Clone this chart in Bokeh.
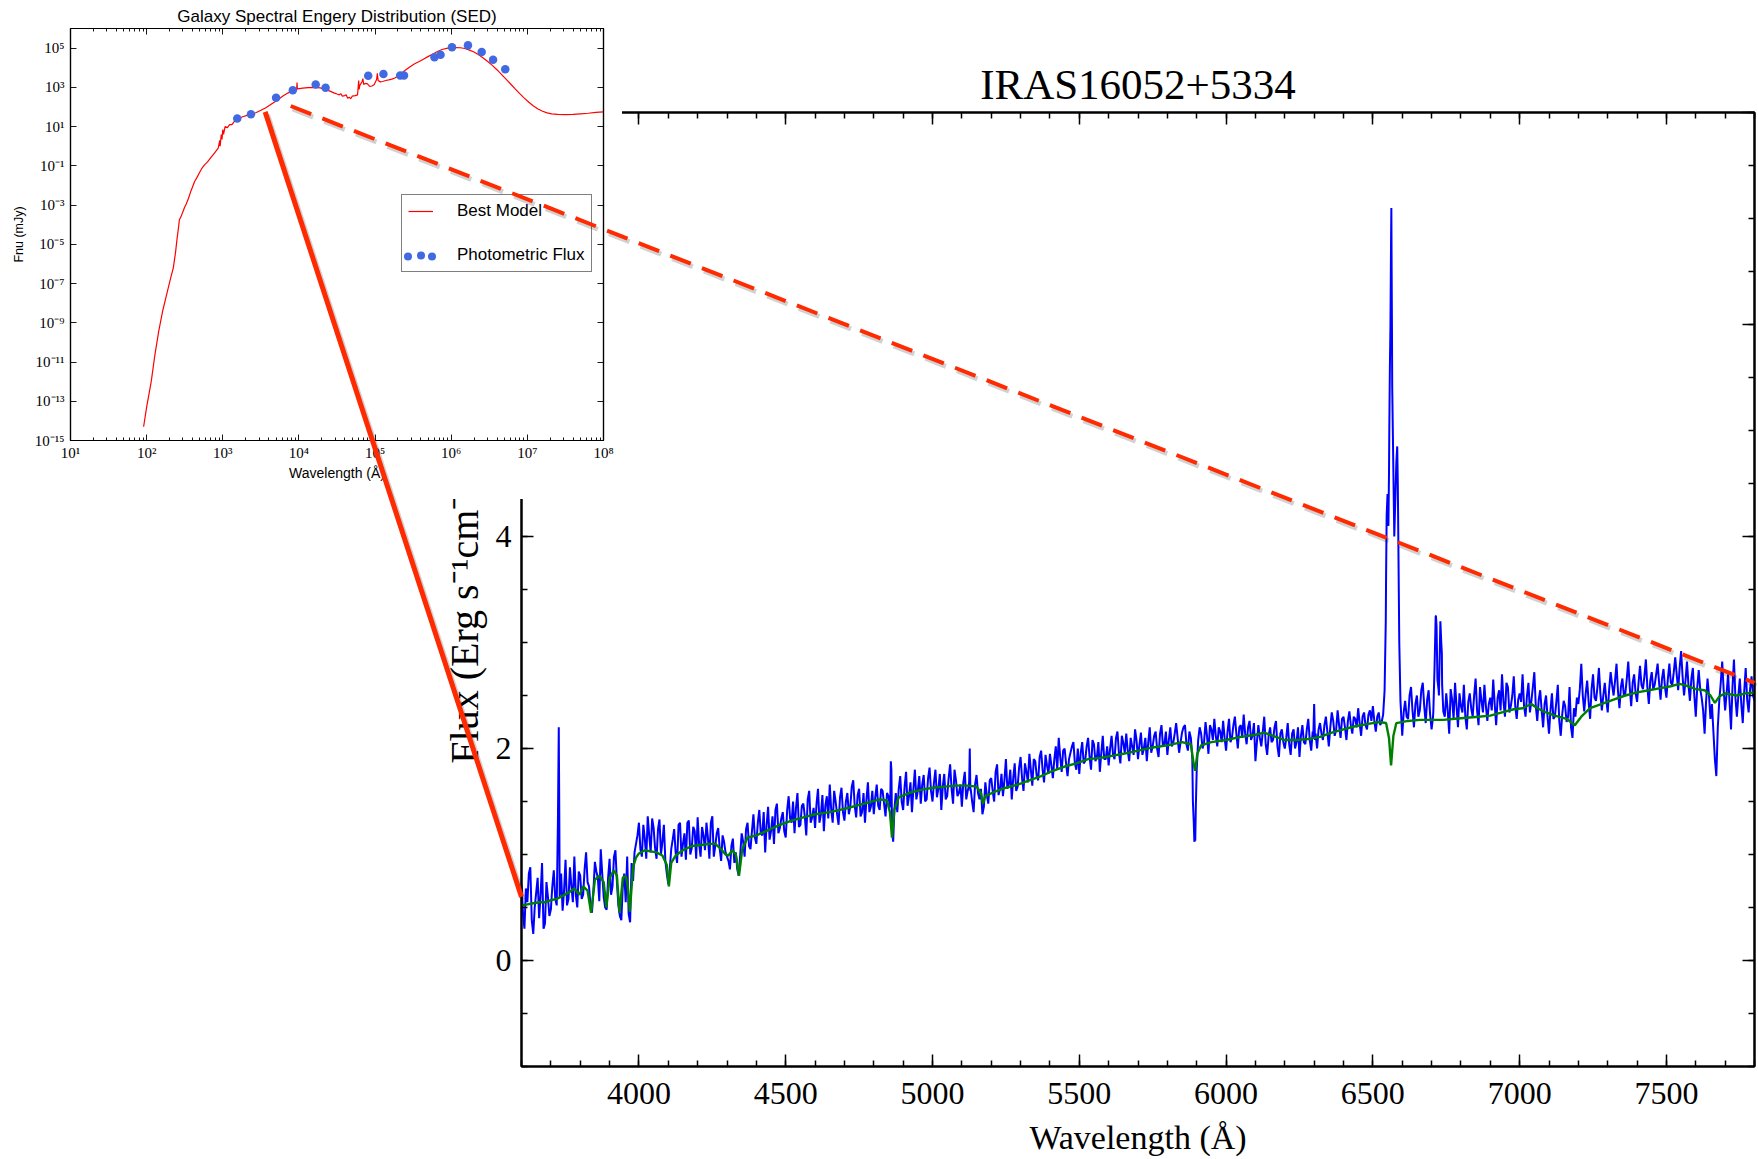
import numpy as np
from bokeh.plotting import figure
from bokeh.models import (Range1d, LinearAxis, LogAxis, SingleIntervalTicker, FixedTicker,
                          CustomJSTickFormatter, Legend, LegendItem)
from bokeh.embed import file_html
from bokeh.resources import INLINE

# ---------------------------------------------------------------------------
# Optical spectrum of IRAS16052+5334 (flux in 1e-16 erg s^-1 cm^-2 A^-1)
# ---------------------------------------------------------------------------
spec_title = "IRAS16052+5334"
wave_start, wave_stop, wave_step = 3600, 7800, 10

# samples at 3600, 3610, ... 7800 A
observed_flux = [
    0.72, 0.30, 0.55, 0.88, 0.25, 0.64, 0.40, 0.92, 0.35, 0.60,   # 3600
    0.48, 0.85, 0.52, 0.60, 0.47, 0.95, 0.58, 0.70, 0.98, 0.50,   # 3700
    0.80, 0.62, 1.02, 0.70, 0.45, 0.93, 0.78, 1.05, 0.60, 0.48,   # 3800
    0.96, 0.70, 1.04, 0.52, 0.38, 0.82, 0.98, 0.36, 0.75, 1.10,   # 3900
    1.30, 0.98, 1.15, 1.36, 1.02, 1.25, 0.96, 1.33, 1.12, 0.94,   # 4000
    0.72, 1.05, 1.24, 0.92, 1.30, 1.10, 0.95, 1.32, 1.06, 1.22,   # 4100
    1.35, 0.98, 1.18, 1.30, 0.96, 1.36, 1.08, 1.25, 0.94, 1.12,   # 4200
    0.98, 0.86, 1.15, 1.02, 0.80, 1.20, 0.98, 1.30, 1.05, 1.38,   # 4300
    1.10, 1.42, 1.18, 1.02, 1.45, 1.22, 1.10, 1.48, 1.25, 1.40,   # 4400
    1.16, 1.55, 1.30, 1.20, 1.58, 1.28, 1.48, 1.18, 1.60, 1.35,   # 4500
    1.25, 1.62, 1.38, 1.22, 1.55, 1.66, 1.30, 1.50, 1.28, 1.63,   # 4600
    1.32, 1.58, 1.45, 1.70, 1.35, 1.62, 1.40, 1.30, 1.68, 1.45,   # 4700
    1.38, 1.66, 1.42, 1.60, 1.36, 1.55, 1.80, 1.42, 1.40, 1.74,   # 4800
    1.42, 1.78, 1.55, 1.40, 1.80, 1.60, 1.48, 1.75, 1.52, 1.82,   # 4900
    1.50, 1.80, 1.62, 1.42, 1.76, 1.55, 1.85, 1.48, 1.70, 1.58,   # 5000
    1.45, 1.78, 1.60, 1.62, 1.40, 1.75, 1.52, 1.38, 1.68, 1.48,   # 5100
    1.72, 1.50, 1.85, 1.62, 1.55, 1.90, 1.66, 1.52, 1.86, 1.64,   # 5200
    1.92, 1.60, 1.78, 1.95, 1.65, 1.88, 1.70, 1.98, 1.68, 1.84,   # 5300
    1.95, 1.72, 2.02, 2.10, 1.78, 2.00, 1.74, 1.96, 2.06, 1.80,   # 5400
    1.76, 2.06, 1.88, 2.10, 1.80, 2.04, 1.92, 1.78, 2.12, 1.90,   # 5500
    1.84, 2.12, 1.90, 2.16, 1.86, 2.05, 2.14, 1.88, 2.02, 2.18,   # 5600
    1.90, 2.15, 2.00, 1.88, 2.20, 2.02, 2.16, 1.92, 2.22, 2.04,   # 5700
    1.94, 2.20, 2.05, 2.24, 1.96, 2.15, 2.22, 1.98, 2.10, 1.30,   # 5800
    1.80, 2.20, 2.00, 2.25, 1.95, 2.18, 2.28, 2.02, 2.16, 2.26,   # 5900
    1.98, 2.28, 2.10, 2.30, 2.00, 2.22, 2.32, 2.04, 2.26, 2.12,   # 6000
    1.88, 2.22, 2.02, 2.30, 1.94, 2.20, 2.08, 2.26, 1.92, 2.18,   # 6100
    2.00, 2.24, 1.94, 2.18, 2.06, 1.92, 2.22, 2.04, 2.28, 1.98,   # 6200
    2.42, 2.00, 2.24, 2.08, 2.30, 2.02, 2.34, 2.12, 2.36, 2.10,   # 6300
    2.30, 2.08, 2.35, 2.14, 2.28, 2.38, 2.12, 2.34, 2.18, 2.36,   # 6400
    2.40, 2.16, 2.34, 2.25, 2.55, 4.40, 6.00, 4.60, 4.70, 3.00,   # 6500
    2.12, 2.45, 2.28, 2.58, 2.20, 2.50, 2.36, 2.62, 2.24, 2.55,   # 6600
    2.18, 2.75, 2.65, 3.20, 2.35, 2.52, 2.14, 2.46, 2.62, 2.20,   # 6700
    2.40, 2.60, 2.18, 2.52, 2.30, 2.66, 2.22, 2.45, 2.60, 2.26,   # 6800
    2.48, 2.65, 2.22, 2.55, 2.70, 2.30, 2.58, 2.40, 2.68, 2.28,   # 6900
    2.52, 2.70, 2.30, 2.62, 2.45, 2.72, 2.26, 2.55, 2.20, 2.50,   # 7000
    2.14, 2.52, 2.30, 2.60, 2.12, 2.45, 2.25, 2.58, 2.10, 2.30,   # 7100
    2.42, 2.80, 2.35, 2.64, 2.28, 2.70, 2.45, 2.76, 2.36, 2.62,   # 7200
    2.34, 2.72, 2.50, 2.80, 2.38, 2.66, 2.52, 2.82, 2.40, 2.70,   # 7300
    2.44, 2.78, 2.56, 2.84, 2.42, 2.72, 2.60, 2.80, 2.46, 2.75,   # 7400
    2.48, 2.80, 2.60, 2.86, 2.55, 2.92, 2.50, 2.82, 2.45, 2.76,   # 7500
    2.30, 2.74, 2.48, 2.14, 2.66, 2.28, 2.16, 1.74, 2.45, 2.82,   # 7600
    2.36, 2.70, 2.18, 2.84, 2.30, 2.66, 2.24, 2.76, 2.34, 2.68,   # 7700
    2.45,                                                         # 7800
]

# samples at 3605, 3615, ... 7795 A
observed_flux_mid = [
    0.45, 0.68, 0.82, 0.38, 0.50, 0.78, 0.62, 0.30, 0.74, 0.42,   # 3605
    0.70, 0.58, 1.60, 0.82, 0.66, 0.52, 0.88, 0.55, 0.62, 0.84,   # 3705
    0.58, 0.86, 0.74, 0.52, 0.66, 0.84, 0.56, 0.82, 0.50, 0.78,   # 3805
    0.62, 0.98, 0.74, 0.42, 0.70, 0.55, 0.44, 0.92, 1.02, 1.18,   # 3905
    1.05, 1.28, 0.96, 1.18, 1.34, 1.06, 1.24, 1.00, 1.28, 0.82,   # 4005
    0.86, 1.14, 1.02, 1.28, 0.98, 1.20, 1.30, 1.00, 1.26, 0.96,   # 4105
    1.10, 1.26, 1.04, 1.16, 1.30, 0.98, 1.20, 1.06, 1.18, 1.02,   # 4205
    0.94, 1.08, 0.92, 0.86, 1.00, 1.12, 1.24, 1.08, 1.22, 1.16,   # 4305
    1.30, 1.20, 1.40, 1.28, 1.14, 1.36, 1.42, 1.20, 1.34, 1.22,   # 4405
    1.42, 1.34, 1.50, 1.44, 1.26, 1.46, 1.36, 1.52, 1.30, 1.44,   # 4505
    1.48, 1.30, 1.56, 1.46, 1.34, 1.42, 1.60, 1.38, 1.54, 1.40,   # 4605
    1.50, 1.38, 1.64, 1.46, 1.56, 1.36, 1.58, 1.52, 1.40, 1.60,   # 4705
    1.54, 1.46, 1.62, 1.48, 1.58, 1.45, 1.15, 1.58, 1.62, 1.50,   # 4805
    1.64, 1.46, 1.68, 1.62, 1.52, 1.74, 1.66, 1.50, 1.72, 1.60,   # 4905
    1.68, 1.54, 1.76, 1.64, 1.52, 1.72, 1.62, 1.80, 1.55, 1.66,   # 5005
    1.68, 1.52, 1.70, 1.50, 1.66, 1.58, 1.62, 1.45, 1.56, 1.70,   # 5105
    1.60, 1.78, 1.56, 1.76, 1.70, 1.62, 1.80, 1.72, 1.60, 1.82,   # 5205
    1.72, 1.86, 1.68, 1.80, 1.90, 1.74, 1.92, 1.80, 1.94, 1.76,   # 5305
    1.84, 1.90, 1.80, 1.92, 1.98, 1.86, 1.90, 2.02, 1.86, 2.00,   # 5405
    1.96, 1.86, 2.02, 1.92, 2.08, 1.88, 2.06, 1.96, 1.90, 2.02,   # 5505
    2.00, 1.94, 2.10, 1.96, 2.12, 1.96, 1.98, 2.10, 1.94, 2.08,   # 5605
    2.04, 1.94, 2.10, 2.06, 1.96, 2.12, 2.00, 2.14, 2.02, 2.16,   # 5705
    2.08, 2.02, 2.14, 2.10, 2.06, 2.20, 2.04, 2.16, 1.90, 1.13,   # 5805
    2.08, 2.14, 2.06, 2.12, 2.22, 2.08, 2.12, 2.20, 2.06, 2.10,   # 5905
    2.16, 2.06, 2.22, 2.14, 2.20, 2.10, 2.14, 2.20, 2.08, 2.24,   # 6005
    2.06, 2.10, 2.16, 2.04, 2.12, 2.06, 2.20, 2.02, 2.14, 2.06,   # 6105
    2.10, 2.04, 2.14, 2.00, 2.20, 2.12, 2.06, 2.18, 2.08, 2.16,   # 6205
    2.14, 2.18, 2.14, 2.22, 2.16, 2.20, 2.26, 2.18, 2.22, 2.28,   # 6305
    2.20, 2.26, 2.22, 2.30, 2.20, 2.24, 2.30, 2.22, 2.32, 2.26,   # 6405
    2.26, 2.30, 2.22, 2.32, 3.60, 4.60, 6.00, 4.20, 4.50, 2.40,   # 6505
    2.34, 2.30, 2.50, 2.36, 2.42, 2.30, 2.55, 2.40, 2.46, 2.32,   # 6605
    2.30, 3.25, 2.50, 2.90, 2.30, 2.36, 2.56, 2.28, 2.40, 2.52,   # 6705
    2.34, 2.30, 2.44, 2.38, 2.50, 2.36, 2.58, 2.34, 2.40, 2.42,   # 6805
    2.36, 2.42, 2.48, 2.36, 2.44, 2.62, 2.34, 2.50, 2.40, 2.46,   # 6905
    2.44, 2.40, 2.50, 2.34, 2.58, 2.40, 2.46, 2.36, 2.42, 2.30,   # 7005
    2.36, 2.28, 2.44, 2.26, 2.32, 2.40, 2.30, 2.20, 2.38, 2.48,   # 7105
    2.56, 2.50, 2.52, 2.44, 2.56, 2.48, 2.58, 2.52, 2.50, 2.46,   # 7205
    2.56, 2.60, 2.64, 2.54, 2.58, 2.50, 2.66, 2.58, 2.62, 2.52,   # 7305
    2.62, 2.60, 2.68, 2.58, 2.64, 2.56, 2.70, 2.62, 2.66, 2.58,   # 7405
    2.66, 2.62, 2.72, 2.70, 2.76, 2.68, 2.64, 2.60, 2.66, 2.50,   # 7505
    2.58, 2.56, 2.36, 2.44, 2.50, 2.42, 1.90, 2.20, 2.62, 2.55,   # 7605
    2.52, 2.44, 2.58, 2.48, 2.50, 2.42, 2.54, 2.46, 2.56, 2.50,   # 7705
]

# finer samples across the emission / absorption lines
line_wave = [3724, 3727, 3729,                                   # [OII]
             4856, 4858, 4862, 4866,                             # Hbeta
             5124, 5127, 5129,
             5884, 5887, 5892, 5894, 5897,                       # NaD
             6297, 6303,                                         # [OI]
             6544, 6547, 6553, 6556, 6558, 6562, 6563, 6564,     # Halpha + [NII]
             6566, 6573, 6576, 6583, 6586, 6594,
             6706, 6714, 6717, 6724, 6733, 6736]                 # [SII]
line_flux = [1.30, 2.20, 1.25,
             1.45, 1.88, 1.30, 1.12,
             1.65, 2.00, 1.60,
             1.95, 1.50, 1.12, 1.15, 1.45,
             2.10, 2.08,
             3.20, 4.20, 4.10, 5.00, 5.60, 6.80, 7.10, 6.50,
             5.40, 4.00, 4.30, 4.85, 4.20, 2.45,
             2.35, 3.25, 3.15, 2.55, 3.00, 2.60]

# best-fit stellar population model
model_wave = [3600, 3620, 3640, 3660, 3680, 3700, 3720, 3740, 3760, 3780, 3798, 3810, 3825,
              3837, 3850, 3865, 3880, 3889, 3900, 3915, 3925, 3934, 3945, 3955, 3962, 3969,
              3980, 3990, 4000, 4020, 4040, 4060, 4080, 4095, 4102, 4110, 4125, 4150, 4180,
              4210, 4240, 4260, 4280, 4295, 4305, 4318, 4330, 4341, 4352, 4370, 4400, 4440,
              4480, 4520, 4560, 4600, 4650, 4700, 4740, 4780, 4820, 4845, 4855, 4862, 4870,
              4885, 4920, 4960, 5000, 5040, 5080, 5120, 5150, 5165, 5172, 5180, 5210, 5250,
              5290, 5330, 5370, 5410, 5450, 5490, 5530, 5570, 5610, 5650, 5700, 5750, 5800,
              5850, 5880, 5890, 5895, 5902, 5915, 5950, 6000, 6050, 6100, 6130, 6160, 6200,
              6240, 6280, 6320, 6360, 6400, 6440, 6480, 6520, 6545, 6555, 6562, 6570, 6580,
              6620, 6660, 6700, 6740, 6780, 6820, 6860, 6900, 6940, 6980, 7010, 7040, 7060,
              7090, 7120, 7160, 7188, 7210, 7240, 7280, 7320, 7360, 7400, 7440, 7480, 7520,
              7545, 7570, 7600, 7630, 7650, 7665, 7680, 7700, 7740, 7770, 7800]
model_flux = [0.52, 0.53, 0.54, 0.55, 0.55, 0.57, 0.58, 0.61, 0.64, 0.68, 0.62, 0.70, 0.66,
              0.45, 0.76, 0.80, 0.74, 0.50, 0.78, 0.85, 0.80, 0.45, 0.78, 0.80, 0.70, 0.46,
              0.88, 0.97, 1.01, 1.04, 1.03, 1.02, 0.99, 0.90, 0.70, 0.92, 0.99, 1.04, 1.08,
              1.09, 1.10, 1.10, 1.05, 1.00, 0.99, 1.04, 1.00, 0.80, 1.05, 1.16, 1.18, 1.23,
              1.28, 1.32, 1.35, 1.38, 1.40, 1.43, 1.46, 1.49, 1.52, 1.51, 1.40, 1.16, 1.42,
              1.54, 1.58, 1.61, 1.63, 1.64, 1.65, 1.65, 1.64, 1.58, 1.48, 1.55, 1.59, 1.63,
              1.66, 1.70, 1.74, 1.79, 1.83, 1.86, 1.90, 1.91, 1.93, 1.95, 1.98, 2.01, 2.03,
              2.06, 2.04, 1.85, 1.79, 1.95, 2.03, 2.06, 2.08, 2.11, 2.13, 2.15, 2.12, 2.08,
              2.08, 2.09, 2.11, 2.15, 2.18, 2.21, 2.23, 2.25, 2.24, 2.10, 1.84, 2.12, 2.24,
              2.26, 2.27, 2.27, 2.27, 2.28, 2.29, 2.30, 2.31, 2.34, 2.37, 2.38, 2.42, 2.38,
              2.34, 2.31, 2.28, 2.22, 2.30, 2.38, 2.42, 2.46, 2.50, 2.53, 2.55, 2.57, 2.59,
              2.61, 2.59, 2.56, 2.55, 2.50, 2.43, 2.49, 2.52, 2.50, 2.52, 2.53]

# ---------------------------------------------------------------------------
# Broad-band SED (log10 wavelength in A, log10 Fnu in mJy)
# ---------------------------------------------------------------------------
sed_title = "Galaxy Spectral Engery Distribution (SED)"
sed_model_logwave = [1.96, 2.00, 2.06, 2.11, 2.16, 2.21, 2.26, 2.31, 2.35, 2.38, 2.40, 2.42, 2.43,
                     2.45, 2.48, 2.50, 2.52, 2.55, 2.58, 2.60, 2.63, 2.66, 2.70, 2.73, 2.76, 2.80,
                     2.84, 2.88, 2.92, 2.94, 2.96, 2.965, 2.98, 2.99, 3.00, 3.01, 3.03, 3.06, 3.09,
                     3.12, 3.16, 3.20, 3.26, 3.32, 3.38, 3.44, 3.50, 3.56, 3.62, 3.68, 3.74, 3.80,
                     3.86, 3.92, 3.97, 3.975, 3.98, 4.05, 4.12, 4.20, 4.28, 4.34, 4.40, 4.46, 4.50,
                     4.53, 4.55, 4.57, 4.60, 4.62, 4.64, 4.66, 4.68, 4.70, 4.74, 4.77, 4.785, 4.79,
                     4.80, 4.83, 4.84, 4.85, 4.87, 4.90, 4.93, 4.96, 4.99, 5.02, 5.03, 5.04, 5.07,
                     5.10, 5.14, 5.18, 5.22, 5.26, 5.30, 5.34, 5.40, 5.46, 5.52, 5.58, 5.64, 5.70,
                     5.76, 5.82, 5.88, 5.94, 6.00, 6.06, 6.12, 6.18, 6.24, 6.30, 6.36, 6.42, 6.48,
                     6.54, 6.60, 6.66, 6.72, 6.78, 6.84, 6.90, 6.96, 7.02, 7.08, 7.14, 7.20, 7.26,
                     7.32, 7.40, 7.50, 7.60, 7.70, 7.80, 7.90, 8.00]
sed_model_logfnu = [-14.3, -13.3, -12.0, -10.6, -9.4, -8.4, -7.6, -6.8, -6.2, -5.4, -4.7, -4.1, -3.75,
                    -3.6, -3.3, -3.1, -2.95, -2.65, -2.3, -2.1, -1.8, -1.6, -1.3, -1.1, -0.95, -0.8,
                    -0.6, -0.4, -0.2, -0.1, 0.3, 0.0, 0.6, 0.35, 0.85, 0.6, 1.0, 0.95, 1.1,
                    1.1, 1.3, 1.4, 1.5, 1.57, 1.63, 1.72, 1.83, 1.95, 2.1, 2.25, 2.42, 2.58,
                    2.72, 2.82, 2.88, 3.25, 2.92, 2.96, 2.99, 3.0, 2.97, 2.9, 2.82, 2.72, 2.66,
                    2.62, 2.68, 2.55, 2.58, 2.62, 2.45, 2.5, 2.42, 2.55, 2.58, 2.62, 3.35, 2.9,
                    3.1, 3.3, 3.45, 3.15, 3.2, 3.18, 3.05, 3.07, 3.15, 3.4, 3.72, 3.35, 3.28,
                    3.3, 3.35, 3.38, 3.42, 3.48, 3.58, 3.7, 3.88, 4.05, 4.2, 4.32, 4.45, 4.58,
                    4.7, 4.83, 4.93, 4.99, 5.02, 5.03, 5.02, 4.98, 4.9, 4.8, 4.66, 4.5, 4.32,
                    4.12, 3.9, 3.66, 3.42, 3.17, 2.92, 2.68, 2.45, 2.24, 2.05, 1.9, 1.78, 1.7,
                    1.65, 1.62, 1.61, 1.62, 1.65, 1.68, 1.72, 1.75]
phot_logwave = [3.19, 3.37, 3.70, 3.92, 4.22, 4.35, 4.91, 5.11, 5.33, 5.38,
                5.78, 5.86, 6.01, 6.22, 6.40, 6.55, 6.71]
phot_logfnu = [1.41, 1.63, 2.47, 2.85, 3.14, 2.98, 3.59, 3.68, 3.61, 3.61,
               4.54, 4.66, 5.05, 5.14, 4.80, 4.41, 3.92]

# optical window of the spectrum, marked on the SED and on the spectrum
window_wave = [3600, 7800]
window_sed_logfnu = [1.75, 2.05]
window_spec_flux = [0.60, 2.62]

# ---------------------------------------------------------------------------
# page geometry
# ---------------------------------------------------------------------------
PAGE_W, PAGE_H = 1758, 1159
SPEC_X, SPEC_Y = (3600, 7800), (-1, 8)
SPEC_BORDER = dict(left=521, right=4, top=112, bottom=93)
SED_W, SED_H = 622, 499
SED_LOGX, SED_LOGY = (1, 8), (-15, 6)
SED_BORDER = dict(left=70, right=19, top=28, bottom=59)

# SED legend box (offset from the frame's lower-left corner) and its item layout
LEG_X, LEG_Y = 331, 168
LEG_PAD, LEG_GW, LEG_GH, LEG_SPACING = 6, 25, 20, 24
LEG_DOT_SIZE, LEG_DOT_GAP = 8, 12

SERIF = "Liberation Serif"
SANS = "Liberation Sans"
RED = "#ff2a00"
DOT_BLUE = "#4169e1"
PINNED = {"position": "absolute", "left": "0px", "top": "0px"}

blank = CustomJSTickFormatter(code="return '';")


def frame_axes(ax, tick_in, minor_in, width):
    ax.axis_line_color = "black"
    ax.axis_line_width = width
    ax.major_tick_in = tick_in
    ax.major_tick_out = 0
    ax.minor_tick_in = minor_in
    ax.minor_tick_out = 0
    ax.major_tick_line_color = "black"
    ax.minor_tick_line_color = "black"
    ax.major_tick_line_width = width * 0.75
    ax.minor_tick_line_width = width * 0.75


def mute_labels(ax):
    ax.formatter = blank
    ax.major_label_standoff = 0
    ax.axis_label = None


# ----------------------------- spectrum panel ------------------------------
wave_grid = np.arange(wave_start, wave_stop + wave_step, wave_step)
wave_mid = np.arange(wave_start + wave_step // 2, wave_stop, wave_step)
all_wave = np.concatenate([wave_grid, wave_mid, np.array(line_wave)])
all_flux = np.concatenate([np.array(observed_flux), np.array(observed_flux_mid),
                           np.array(line_flux)])
order = np.argsort(all_wave, kind="stable")
all_wave, all_flux = all_wave[order], all_flux[order]

spec = figure(width=PAGE_W, height=PAGE_H, title=spec_title,
              x_range=Range1d(*SPEC_X), y_range=Range1d(*SPEC_Y),
              output_backend="svg", toolbar_location=None, tools="",
              min_border_left=SPEC_BORDER["left"], min_border_right=SPEC_BORDER["right"],
              min_border_top=SPEC_BORDER["top"], min_border_bottom=SPEC_BORDER["bottom"],
              styles=PINNED)
spec.grid.visible = False
spec.outline_line_color = "black"
spec.outline_line_width = 2
spec.background_fill_color = "white"
spec.border_fill_color = "white"

spec.title.text_font = SERIF
spec.title.text_font_size = "43px"
spec.title.text_font_style = "normal"
spec.title.text_color = "black"
spec.title.align = "center"
spec.title.standoff = 9

xt = SingleIntervalTicker(interval=500, num_minor_ticks=5)
yt = SingleIntervalTicker(interval=2, num_minor_ticks=4)
xa = spec.xaxis[0]
ya = spec.yaxis[0]
xa.ticker = xt
ya.ticker = yt
for ax in (xa, ya):
    frame_axes(ax, 12, 6, 2)
    ax.major_label_text_font = SERIF
    ax.major_label_text_font_size = "32px"
    ax.major_label_text_color = "black"
    ax.axis_label_text_font = SERIF
    ax.axis_label_text_font_style = "normal"
    ax.axis_label_text_color = "black"
xa.axis_label = "Wavelength (Å)"
xa.axis_label_text_font_size = "34px"
xa.major_label_standoff = 16
xa.axis_label_standoff = 12
ya.axis_label = "Flux (Erg s⁻¹cm⁻²Å⁻¹)"
ya.axis_label_text_font_size = "40px"
ya.major_label_standoff = 10
ya.axis_label_standoff = 6

top_ax = LinearAxis(ticker=xt)
right_ax = LinearAxis(ticker=yt)
for ax in (top_ax, right_ax):
    frame_axes(ax, 12, 6, 2)
    mute_labels(ax)
spec.add_layout(top_ax, "above")
spec.add_layout(right_ax, "right")

spec.line(all_wave, all_flux, line_color="#0000ff", line_width=2)
spec.line(model_wave, model_flux, line_color="#008000", line_width=2.4)

# ------------------------------- SED panel ---------------------------------
sup = CustomJSTickFormatter(code="""
    const s = {"-": "\u207b", "0": "\u2070", "1": "\u00b9", "2": "\u00b2", "3": "\u00b3",
               "4": "\u2074", "5": "\u2075", "6": "\u2076", "7": "\u2077", "8": "\u2078",
               "9": "\u2079"};
    const e = Math.round(Math.log10(tick));
    return "10" + String(e).split("").map(c => s[c]).join("");
""")

sed = figure(width=SED_W, height=SED_H, title=sed_title,
             x_axis_type="log", y_axis_type="log",
             x_range=Range1d(10 ** SED_LOGX[0], 10 ** SED_LOGX[1]),
             y_range=Range1d(10 ** SED_LOGY[0], 10 ** SED_LOGY[1]),
             output_backend="svg", toolbar_location=None, tools="",
             min_border_left=SED_BORDER["left"], min_border_right=SED_BORDER["right"],
             min_border_top=SED_BORDER["top"], min_border_bottom=SED_BORDER["bottom"],
             styles=PINNED)
sed.grid.visible = False
sed.outline_line_color = "black"
sed.outline_line_width = 1.2
sed.background_fill_color = "white"
sed.border_fill_color = "white"
sed.title.text_font = SANS
sed.title.text_font_size = "17px"
sed.title.text_font_style = "normal"
sed.title.text_color = "black"
sed.title.align = "center"
sed.title.standoff = 6

decades_x = [10.0 ** k for k in range(SED_LOGX[0], SED_LOGX[1] + 1)]
minor_x = [m * 10.0 ** k for k in range(SED_LOGX[0], SED_LOGX[1]) for m in range(2, 10)]
decades_y = [10.0 ** k for k in range(SED_LOGY[0], SED_LOGY[1] + 1, 2)]
sx_t = FixedTicker(ticks=decades_x, minor_ticks=minor_x)
sy_t = FixedTicker(ticks=decades_y)

sxa = sed.xaxis[0]
sya = sed.yaxis[0]
sxa.ticker = sx_t
sya.ticker = sy_t
for ax in (sxa, sya):
    frame_axes(ax, 6, 3, 1.2)
    ax.formatter = sup
    ax.major_label_text_font = SERIF
    ax.major_label_text_font_size = "15px"
    ax.major_label_text_color = "black"
    ax.axis_label_text_font = SANS
    ax.axis_label_text_font_style = "normal"
    ax.axis_label_text_color = "black"
sxa.axis_label = "Wavelength (Å)"
sxa.axis_label_text_font_size = "14px"
sxa.major_label_standoff = 4
sxa.axis_label_standoff = 1
sya.axis_label = "Fnu (mJy)"
sya.axis_label_text_font_size = "12.5px"
sya.major_label_standoff = 6
sya.axis_label_standoff = 6

stop_ax = LogAxis(ticker=sx_t)
sright_ax = LogAxis(ticker=sy_t)
for ax in (stop_ax, sright_ax):
    frame_axes(ax, 6, 3, 1.2)
    mute_labels(ax)
sed.add_layout(stop_ax, "above")
sed.add_layout(sright_ax, "right")

r_model = sed.line(10 ** np.array(sed_model_logwave), 10 ** np.array(sed_model_logfnu),
                   line_color="#ff0000", line_width=1.2)
r_phot = sed.scatter(10 ** np.array(phot_logwave), 10 ** np.array(phot_logfnu),
                     size=8.5, fill_color=DOT_BLUE, line_color=None)

legend = Legend(items=[LegendItem(label="Best Model", renderers=[r_model]),
                       LegendItem(label="Photometric Flux", renderers=[r_phot])],
                location=(LEG_X, LEG_Y), orientation="vertical",
                label_text_font=SANS, label_text_font_size="17px", label_text_color="black",
                glyph_width=LEG_GW, glyph_height=LEG_GH, label_standoff=24,
                spacing=LEG_SPACING, padding=LEG_PAD, margin=0,
                border_line_color="black", border_line_width=1.5,
                background_fill_color="white", background_fill_alpha=1.0)
sed.add_layout(legend)

# --------------------- connector lines across both panels ------------------
spec_fw = PAGE_W - SPEC_BORDER["left"] - SPEC_BORDER["right"]
spec_fh = PAGE_H - SPEC_BORDER["top"] - SPEC_BORDER["bottom"]
sed_fw = SED_W - SED_BORDER["left"] - SED_BORDER["right"]
sed_fh = SED_H - SED_BORDER["top"] - SED_BORDER["bottom"]


def sed_px(wave, logf):
    x = SED_BORDER["left"] + (np.log10(wave) - SED_LOGX[0]) / (SED_LOGX[1] - SED_LOGX[0]) * sed_fw
    y = SED_BORDER["top"] + (SED_LOGY[1] - logf) / (SED_LOGY[1] - SED_LOGY[0]) * sed_fh
    return x, y


def spec_px(wave, flux):
    x = SPEC_BORDER["left"] + (wave - SPEC_X[0]) / (SPEC_X[1] - SPEC_X[0]) * spec_fw
    y = SPEC_BORDER["top"] + (SPEC_Y[1] - flux) / (SPEC_Y[1] - SPEC_Y[0]) * spec_fh
    return x, y


over = figure(width=PAGE_W, height=PAGE_H, title=None,
              x_range=Range1d(0, PAGE_W), y_range=Range1d(PAGE_H, 0),
              x_axis_location=None, y_axis_location=None,
              output_backend="svg", toolbar_location=None, tools="", min_border=0,
              styles=PINNED)
over.grid.visible = False
over.outline_line_color = None
over.background_fill_color = None
over.border_fill_color = None

# the legend sample for the photometry is a row of three dots
leg_glyph_cx = SED_BORDER["left"] + LEG_X + LEG_PAD + LEG_GW / 2
leg_glyph_cy = SED_H - SED_BORDER["bottom"] - LEG_Y - LEG_PAD - LEG_GH / 2
over.scatter([leg_glyph_cx - LEG_DOT_GAP, leg_glyph_cx + LEG_DOT_GAP],
             [leg_glyph_cy, leg_glyph_cy], size=LEG_DOT_SIZE,
             fill_color=DOT_BLUE, line_color=None)

dashes = ["solid", "22 12"]
widths = [5, 4]
for w, lf, fl, dash, lw in zip(window_wave, window_sed_logfnu, window_spec_flux, dashes, widths):
    x0, y0 = sed_px(w, lf)
    x1, y1 = spec_px(w, fl)
    over.line([x0 + 2, x1 + 2], [y0 + 3, y1 + 3], line_color="black", line_alpha=0.18,
              line_width=lw + 1, line_dash=dash)
    over.line([x0, x1], [y0, y1], line_color=RED, line_width=lw, line_dash=dash)

with open("out.html", "w") as f:
    f.write(file_html((spec, sed, over), INLINE))
